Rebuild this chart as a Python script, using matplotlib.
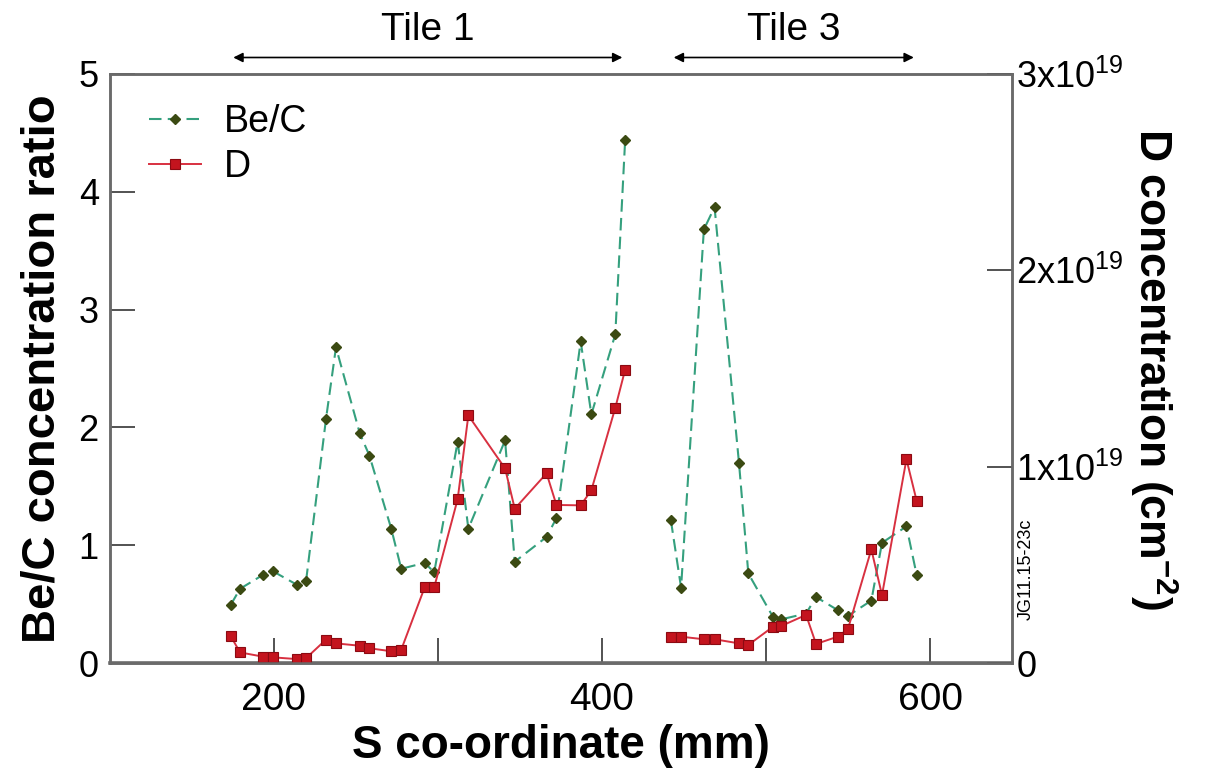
import matplotlib
matplotlib.use('Agg')
from matplotlib import pyplot as plt
from matplotlib import font_manager

# S co-ordinate (mm) of each sample, tile 1 and tile 3
s_tile1 = [173.5, 179.3, 193.5, 199.2, 213.9, 219.6, 231.7, 237.8, 252.3, 258.2, 271.5, 277.6,
           291.9, 297.7, 312.0, 318.5, 340.9, 346.8, 366.2, 372.2, 387.0, 393.5, 408.1, 414.1]
s_tile3 = [442.0, 448.2, 462.1, 468.6, 483.5, 489.2, 504.3, 509.1, 524.4, 530.5, 543.6, 549.9,
           564.2, 570.7, 585.6, 591.8]

# Be/C concentration ratio
bec_tile1 = [0.49, 0.63, 0.75, 0.78, 0.665, 0.70, 2.07, 2.68, 1.95, 1.76, 1.14, 0.80,
             0.85, 0.77, 1.88, 1.14, 1.89, 0.86, 1.07, 1.23, 2.73, 2.11, 2.79, 4.44]
bec_tile3 = [1.21, 0.64, 3.68, 3.87, 1.70, 0.76, 0.39, 0.37, 0.42, 0.56, 0.45, 0.40,
             0.53, 1.02, 1.16, 0.75]

# D concentration (units of 1e19 cm^-2)
d_tile1 = [0.139, 0.054, 0.032, 0.029, 0.020, 0.025, 0.119, 0.100, 0.088, 0.075, 0.060, 0.068,
           0.386, 0.386, 0.835, 1.261, 0.991, 0.786, 0.966, 0.805, 0.803, 0.880, 1.300, 1.494]
d_tile3 = [0.134, 0.134, 0.121, 0.121, 0.100, 0.092, 0.185, 0.188, 0.245, 0.097, 0.134, 0.172,
           0.579, 0.346, 1.038, 0.827]

left_ticks = [0, 1, 2, 3, 4, 5]
right_ticks = [0, 1e19, 2e19, 3e19]
right_labels = ['0', '1x10$^{19}$', '2x10$^{19}$', '3x10$^{19}$']
x_ticks = [200, 300, 400, 500, 600]
x_labels = ['200', '', '400', '', '600']

installed = {f.name for f in font_manager.fontManager.ttflist}
narrow = 'Liberation Sans Narrow' if 'Liberation Sans Narrow' in installed else 'Liberation Sans'

plt.rcParams['font.family'] = ['Liberation Sans', 'DejaVu Sans']
plt.rcParams['mathtext.default'] = 'regular'

fig = plt.figure(figsize=(12.07, 7.78), dpi=100)
ax = fig.add_axes([0.0911, 0.1478, 0.7474, 0.7571])
ax2 = ax.twinx()

green_line = '#35a07e'
green_mark = '#3b4a12'
red_line = '#d83040'
red_mark = '#c4141e'

for s, b in [(s_tile1, bec_tile1), (s_tile3, bec_tile3)]:
    ax.plot(s, b, color=green_line, ls=(0, (6, 3)), lw=1.5, marker='D', ms=5.5,
            mfc=green_mark, mec=green_mark, label='Be/C')
for s, d in [(s_tile1, d_tile1), (s_tile3, d_tile3)]:
    ax2.plot(s, [v * 1e19 for v in d], color=red_line, lw=1.4, marker='s', ms=6.5,
             mfc=red_mark, mec='#8c0a12', mew=0.8, label='D')

ax.set_xlim(100, 650)
ax.set_ylim(0, 5)
ax2.set_ylim(0, 3e19)

ax.set_yticks(left_ticks)
ax.set_yticklabels([str(t) for t in left_ticks])
ax.set_xticks(x_ticks)
ax.set_xticklabels(x_labels, fontfamily=narrow)
ax2.set_yticks(right_ticks)
ax2.set_yticklabels(right_labels)

ax.tick_params(axis='both', direction='in', length=18, width=1.3, color='#444444',
               labelsize=26, pad=8, top=False, right=False)
ax.tick_params(axis='x', labelsize=28, pad=14)
ax2.tick_params(axis='y', direction='in', length=18, width=1.3, color='#444444',
                labelsize=26, pad=3)

for a in (ax, ax2):
    for sp in a.spines.values():
        sp.set_color('#6a6a6a')
        sp.set_linewidth(1.8)
ax.spines['bottom'].set_linewidth(2.6)

ax.set_ylabel('Be/C concentration ratio', fontsize=34, fontweight='bold', labelpad=10)
ax2.set_ylabel('D concentration (cm$^{-2}$)', fontsize=32, fontweight='bold',
               rotation=-90, labelpad=40)
ax.set_xlabel('S co-ordinate (mm)', fontsize=33, fontweight='bold', fontfamily=narrow,
              labelpad=4)

# legend: one entry per series
h1, l1 = ax.get_legend_handles_labels()
h2, l2 = ax2.get_legend_handles_labels()
ax.legend([h1[0], h2[0]], [l1[0], l2[0]], loc='upper left', frameon=False, fontsize=27,
          handlelength=1.4, handletextpad=0.6, borderaxespad=0.4, labelspacing=0.25,
          bbox_to_anchor=(0.01, 1.0))

# tile ranges above the plot
for lo, hi, name in [(s_tile1[0], s_tile1[-1], 'Tile 1'), (s_tile3[0], s_tile3[-1], 'Tile 3')]:
    ax.annotate('', xy=(lo, 5.14), xytext=(hi, 5.14), xycoords='data',
                arrowprops=dict(arrowstyle='<|-|>', color='black', lw=1.2,
                                mutation_scale=14), annotation_clip=False)
    ax.text((lo + hi) / 2, 5.22, name, ha='center', va='bottom', fontsize=28,
            fontfamily=narrow, clip_on=False)

fig.text(0.8435, 0.203, 'JG11.15-23c', rotation=90, fontsize=13, ha='left', va='bottom')

fig.savefig('out.png', dpi=100)
